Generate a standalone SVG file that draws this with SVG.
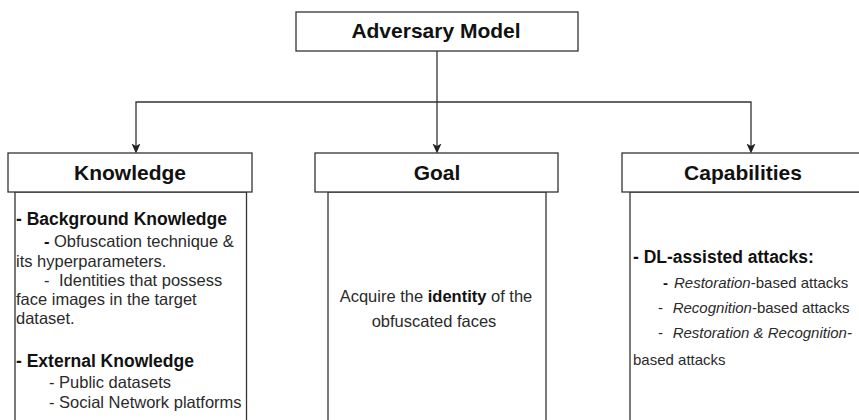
<svg xmlns="http://www.w3.org/2000/svg" width="859" height="420" viewBox="0 0 859 420">
  <defs>
    <marker id="arrow" markerUnits="userSpaceOnUse" markerWidth="10" markerHeight="10" viewBox="0 0 10 10" refX="2.5" refY="5" orient="auto">
      <path d="M0,0.5 L10,5 L0,9.5 L2.5,5 Z" fill="#222"/>
    </marker>
  </defs>
  <style>
    .box { fill: #fff; stroke: #333; stroke-width: 1.3; }
    .edge { fill: none; stroke: #333; stroke-width: 1.3; }
    .title { font-family: "Liberation Sans", Arial, sans-serif; font-weight: bold; font-size: 21px; fill: #111; text-anchor: middle; }
    .hb { font-family: "Liberation Sans", Arial, sans-serif; font-weight: bold; font-size: 17.5px; fill: #111; }
    .t { font-family: "Liberation Sans", Arial, sans-serif; font-size: 16.5px; fill: #2a2a2a; }
    .tc { font-family: "Liberation Sans", Arial, sans-serif; font-size: 15px; fill: #2a2a2a; }
    .b { font-weight: bold; fill: #111; }
    .i { font-style: italic; }
  </style>
  <rect width="859" height="420" fill="#fff"/>

  <g id="connectors">
    <path class="edge" d="M437,51 V146" marker-end="url(#arrow)"/>
    <path class="edge" d="M437,102 H136 V146" marker-end="url(#arrow)"/>
    <path class="edge" d="M437,102 H751 V146" marker-end="url(#arrow)"/>
  </g>

  <g id="adversary-model">
    <rect class="box" x="296" y="12" width="282" height="39"/>
    <text class="title" x="436" y="38">Adversary Model</text>
  </g>

  <g id="knowledge">
    <rect class="box" x="15" y="192" width="231.5" height="260"/>
    <rect class="box" x="8" y="153" width="244" height="39"/>
    <text class="title" x="130" y="180">Knowledge</text>
    <text class="hb" x="16" y="225">- Background Knowledge</text>
    <text class="t" y="247"><tspan class="b" x="44">-</tspan><tspan x="54">Obfuscation technique &amp;</tspan></text>
    <text class="t" x="16" y="267">its hyperparameters.</text>
    <text class="t" y="286"><tspan x="44">-</tspan><tspan x="59">Identities that possess</tspan></text>
    <text class="t" x="16" y="305">face images in the target</text>
    <text class="t" x="16" y="324">dataset.</text>
    <text class="hb" x="16" y="367">- External Knowledge</text>
    <text class="t" x="49" y="388">- Public datasets</text>
    <text class="t" x="49" y="408">- Social Network platforms</text>
  </g>

  <g id="goal">
    <rect class="box" x="328" y="192" width="218" height="260"/>
    <rect class="box" x="315" y="153" width="243" height="39"/>
    <text class="title" x="437" y="180">Goal</text>
    <text class="t" x="436" y="302" text-anchor="middle">Acquire the <tspan class="b">identity</tspan> of the</text>
    <text class="t" x="434" y="327" text-anchor="middle">obfuscated faces</text>
  </g>

  <g id="capabilities">
    <rect class="box" x="630" y="192" width="250" height="260"/>
    <rect class="box" x="622" y="153" width="242" height="39"/>
    <text class="title" x="743" y="180">Capabilities</text>
    <text class="hb" x="633" y="263">- DL-assisted attacks:</text>
    <text class="tc" y="288"><tspan class="b" x="663">-</tspan><tspan class="i" x="674">Restoration</tspan>-based attacks</text>
    <text class="tc" y="313"><tspan x="658">-</tspan><tspan class="i" x="672.7">Recognition</tspan>-based attacks</text>
    <text class="tc" y="338"><tspan x="658">-</tspan><tspan class="i" x="672.7">Restoration &amp; Recognition-</tspan></text>
    <text class="tc" x="633" y="365">based attacks</text>
  </g>
</svg>
